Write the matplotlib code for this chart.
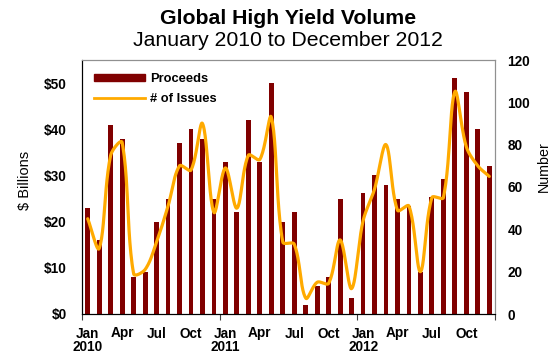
import numpy as np
import matplotlib
matplotlib.use("Agg")
import matplotlib.pyplot as plt
from matplotlib.lines import Line2D
from matplotlib.patches import Patch

plt.rcParams['font.family'] = ['Liberation Sans', 'DejaVu Sans']

# Monthly data, Jan 2010 - Dec 2012
months = ["Jan", "Feb", "Mar", "Apr", "May", "Jun",
          "Jul", "Aug", "Sep", "Oct", "Nov", "Dec"] * 3
years = [2010] * 12 + [2011] * 12 + [2012] * 12

proceeds = [23, 16, 41, 38, 8, 9, 20, 25, 37, 40, 38, 25,
            33, 22, 42, 33, 50, 20, 22, 2, 6, 8, 25, 3.5,
            26.3, 30, 28, 25, 23.3, 9, 25.3, 29.3, 51, 48, 40, 32]

issues = [45, 31, 75, 81, 19, 21, 34, 51, 70, 68, 90, 48,
          69, 50, 75, 73, 93, 34, 33, 7.5, 15, 14.5, 35, 12,
          44, 59, 80, 49, 51, 20, 55, 55, 105, 79, 70, 65]

left_ticks = [0, 10, 20, 30, 40, 50]
left_tick_labels = ["$0", "$10", "$20", "$30", "$40", "$50"]
right_ticks = [0, 20, 40, 60, 80, 100, 120]

x = np.arange(len(proceeds))

# axes box in pixels (figure is 552 x 354 px)
AX_L, AX_R, AX_T, AX_B = 82, 495, 60, 314


def smooth_curve(xs, ys, kx, ky, n=24):
    """Bezier smoothing through every point; tangents are split in
    proportion to the on-screen chord lengths (kx, ky = px per unit)."""
    xs = np.asarray(xs, float)
    ys = np.asarray(ys, float)
    m = len(xs)
    d = np.hypot(np.diff(xs) * kx, np.diff(ys) * ky)
    tx = np.empty(m)
    ty = np.empty(m)
    tx[1:-1] = xs[2:] - xs[:-2]
    ty[1:-1] = ys[2:] - ys[:-2]
    tx[0], ty[0] = xs[1] - xs[0], ys[1] - ys[0]
    tx[-1], ty[-1] = xs[-1] - xs[-2], ys[-1] - ys[-2]
    dl = np.concatenate([[0.0], d])      # chord before each point
    dr = np.concatenate([d, [0.0]])      # chord after each point
    t = np.linspace(0, 1, n, endpoint=False)[:, None]
    out = []
    for i in range(m - 1):
        p0 = np.array([xs[i], ys[i]])
        p3 = np.array([xs[i + 1], ys[i + 1]])
        f1 = dr[i] / (dl[i] + dr[i]) / 3
        f2 = dl[i + 1] / (dl[i + 1] + dr[i + 1]) / 3
        p1 = p0 + f1 * np.array([tx[i], ty[i]])
        p2 = p3 - f2 * np.array([tx[i + 1], ty[i + 1]])
        seg = ((1 - t) ** 3) * p0 + 3 * ((1 - t) ** 2) * t * p1 \
            + 3 * (1 - t) * t ** 2 * p2 + t ** 3 * p3
        out.append(seg)
    out.append(np.array([[xs[-1], ys[-1]]]))
    pts = np.vstack(out)
    return pts[:, 0], pts[:, 1]


fig = plt.figure(figsize=(5.52, 3.54), dpi=100)
ax = fig.add_axes([AX_L / 552, 1 - AX_B / 354,
                   (AX_R - AX_L) / 552, (AX_B - AX_T) / 354])

bar_color = "#800000"
line_color = "#FFAA00"
tick_font = {"size": 9.8, "weight": "bold"}

ax.bar(x, proceeds, width=0.42, color=bar_color, zorder=2)
ax.set_xlim(-0.5, len(proceeds) - 0.5)
ax.set_ylim(0, 55)
ax.set_yticks(left_ticks)
ax.set_yticklabels(left_tick_labels, fontdict=tick_font)
ax.tick_params(axis="y", length=0, pad=11)

ax2 = ax.twinx()
kx = (AX_R - AX_L) / len(proceeds)
ky = (AX_B - AX_T) / 120
sx, sy = smooth_curve(x, issues, kx, ky)
ax2.plot(sx, sy, color=line_color, lw=2.3, solid_capstyle="round", zorder=3)
ax2.set_ylim(0, 120)
ax2.set_yticks(right_ticks)
ax2.set_yticklabels([str(v) for v in right_ticks], fontdict=tick_font)
ax2.tick_params(axis="y", length=0, pad=9)

# Category labels every quarter, year under January
label_pos = x[::3]
labels = [f"{months[i]}\n{years[i]}" if months[i] == "Jan" else months[i]
          for i in label_pos]
ax.set_xticks(label_pos)
ax.set_xticklabels(labels, fontdict=tick_font, linespacing=0.95, va="top")
ax.tick_params(axis="x", length=0, pad=9)
# tick marks at year boundaries
ax.set_xticks([-0.5, 11.5, 23.5, 35.5], minor=True)
ax.tick_params(axis="x", which="minor", length=4, width=0.8, color="#404040")

for a in (ax, ax2):
    a.spines["top"].set_color("#909090")
    a.spines["right"].set_color("#909090")
    a.spines["left"].set_color("black")
    a.spines["bottom"].set_color("black")

fig.text(25 / 552, 1 - 180 / 354, "$ Billions", rotation=90, ha="center",
         va="center", fontsize=10.5)
fig.text(544 / 552, 1 - 167 / 354, "Number", rotation=90, ha="center",
         va="center", fontsize=10.3)

title_x = 288 / 552
fig.text(title_x, 1 - 18 / 354, "Global High Yield Volume", ha="center",
         va="center", fontsize=15.3, fontweight="bold")
fig.text(title_x, 1 - 41 / 354, "January 2010 to December 2012", ha="center",
         va="center", fontsize=15.3)

handles = [Patch(facecolor=bar_color, edgecolor=bar_color),
           Line2D([0], [0], color=line_color, lw=2)]
ax2.legend(handles, ["Proceeds", "# of Issues"], loc="upper left",
           bbox_to_anchor=(0.0, 0.995), frameon=False,
           prop={"size": 9.3, "weight": "bold"},
           handlelength=4.0, handleheight=0.45, handletextpad=0.4,
           labelspacing=0.6, borderpad=0.4)

fig.savefig("out.png", dpi=100)
